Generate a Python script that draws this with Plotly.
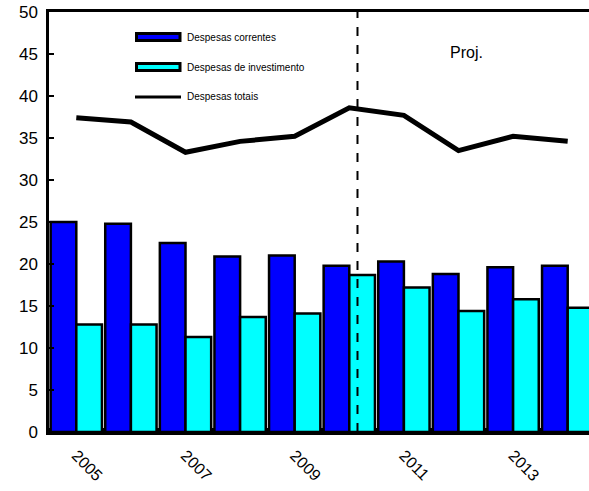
import plotly.graph_objects as go

years = [2005, 2006, 2007, 2008, 2009, 2010, 2011, 2012, 2013, 2014]
correntes = [25.0, 24.8, 22.5, 20.9, 21.0, 19.8, 20.3, 18.8, 19.6, 19.8]
investimento = [12.8, 12.8, 11.3, 13.7, 14.1, 18.7, 17.2, 14.4, 15.8, 14.8]
totais = [37.4, 36.9, 33.3, 34.6, 35.2, 38.6, 37.7, 33.5, 35.2, 34.6]
proj_start = 2010.15
labels = ["Despesas correntes", "Despesas de investimento", "Despesas totais"]

FONT = "Liberation Sans, Arial, sans-serif"

fig = go.Figure()
fig.add_trace(go.Bar(x=years, y=correntes, name=labels[0], marker=dict(color="#0000FF", line=dict(color="black", width=2.5)), showlegend=False))
fig.add_trace(go.Bar(x=years, y=investimento, name=labels[1], marker=dict(color="#00FFFF", line=dict(color="black", width=2.5)), showlegend=False))
fig.add_trace(go.Scatter(x=years, y=totais, name=labels[2], mode="lines", line=dict(color="black", width=5), showlegend=False))

fig.add_shape(type="line", xref="x", yref="paper", x0=proj_start, x1=proj_start, y0=0, y1=1,
              line=dict(color="black", width=2, dash="dash"))

# custom legend (positions given in page pixels)
leg_items = [(labels[0], "#0000FF", "bar", 37), (labels[1], "#00FFFF", "bar", 67), (labels[2], "black", "line", 97)]
top, bottom = 12, 432
H = bottom - top
def py(pix):
    return 1 - (pix - top) / H
left, right = 49, 595
W = right - left
def px(pix):
    return (pix - left) / W
for text, col, kind, yc in leg_items:
    if kind == "bar":
        fig.add_shape(type="rect", xref="paper", yref="paper", x0=px(136.5), x1=px(180), y0=py(yc + 3.5), y1=py(yc - 3.5),
                      fillcolor=col, line=dict(color="black", width=3))
    else:
        fig.add_shape(type="line", xref="paper", yref="paper", x0=px(135), x1=px(181), y0=py(yc), y1=py(yc),
                      line=dict(color="black", width=3))
    fig.add_annotation(xref="paper", yref="paper", x=px(185), y=py(yc), text=text, showarrow=False,
                       xanchor="left", yanchor="middle", font=dict(family=FONT, size=10, color="black"))

fig.add_annotation(xref="paper", yref="paper", x=px(466), y=py(53), text="Proj.", showarrow=False,
                   xanchor="center", yanchor="middle", font=dict(family=FONT, size=16, color="black"))

FW, FH = 597, 491
fig.update_layout(
    width=FW, height=FH,
    margin=dict(l=left, r=FW - right, t=top, b=FH - bottom, pad=0),
    paper_bgcolor="white", plot_bgcolor="white",
    barmode="group", bargap=0.06, bargroupgap=0,
    font=dict(family=FONT, color="black"),
    xaxis=dict(range=[2004.5, 2014.5], tickmode="linear", tick0=2005, dtick=2, tickangle=45,
               ticks="", showgrid=False, zeroline=False, showline=True, linecolor="black", linewidth=3,
               mirror=True, automargin=False, tickfont=dict(size=16, family=FONT), ticklabelstandoff=5,
               minor=dict(tickmode="linear", tick0=2004.5, dtick=1, ticks="inside", ticklen=4, tickcolor="black", tickwidth=2)),
    yaxis=dict(range=[0, 50], tickmode="linear", tick0=0, dtick=5, ticks="inside", ticklen=5, tickwidth=2,
               tickcolor="black", showgrid=False, zeroline=False, showline=True, linecolor="black", linewidth=3,
               automargin=False, tickfont=dict(size=17, family=FONT), ticksuffix="\u00a0"),
)

fig.write_html("out.html", config={"displayModeBar": False, "staticPlot": True},
               post_script="document.body.style.margin='0';document.body.style.overflow='hidden';")
